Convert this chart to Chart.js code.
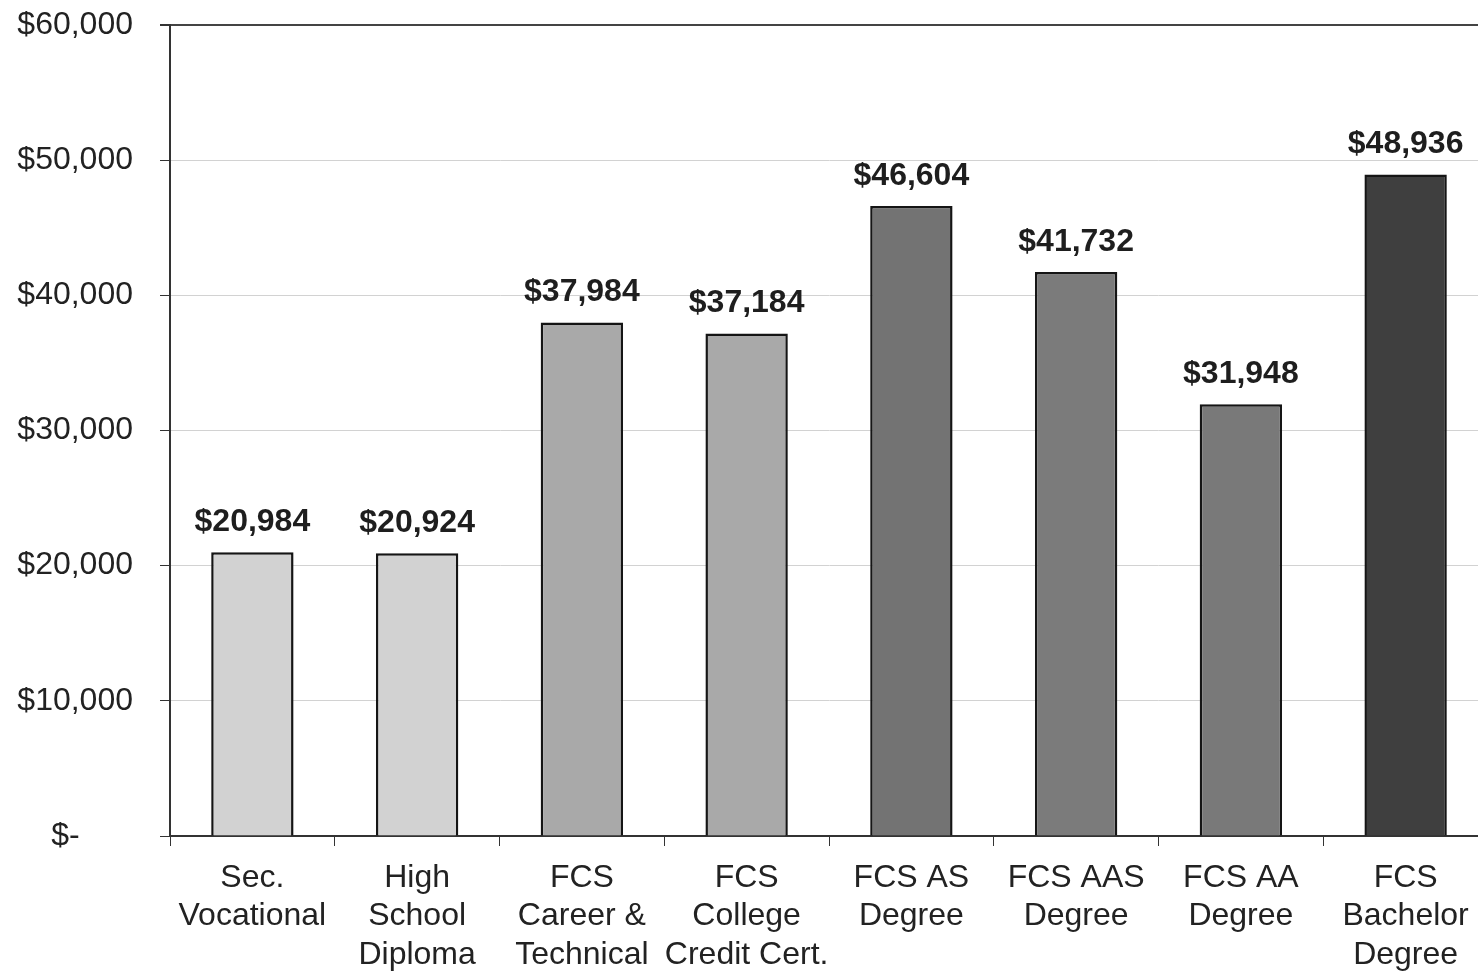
<html lang="en">

<head>
  <meta charset="UTF-8">
  <script src="https://cdn.jsdelivr.net/npm/chart.js@4.4.1/dist/chart.umd.min.js"></script>
  <title>Average Earnings by Education Level</title>
  <style>
    body { margin: 0; overflow: hidden; background: #fff; }
  </style>
</head>

<body>
  <canvas id="myChart" width="1492" height="972"></canvas>
  <script>
    const categories = [
      ['Sec.', 'Vocational'],
      ['High', 'School', 'Diploma'],
      ['FCS', 'Career &', 'Technical'],
      ['FCS', 'College', 'Credit Cert.'],
      ['FCS AS', 'Degree'],
      ['FCS AAS', 'Degree'],
      ['FCS AA', 'Degree'],
      ['FCS', 'Bachelor', 'Degree']
    ];
    const earnings = [20984, 20924, 37984, 37184, 46604, 41732, 31948, 48936];
    const barColors = ['#d2d2d2', '#d2d2d2', '#a9a9a9', '#a9a9a9', '#737373', '#7b7b7b', '#797979', '#3f3f3f'];
    const yTicks = [0, 10000, 20000, 30000, 40000, 50000, 60000];

    function money(v) {
      return '$' + v.toLocaleString('en-US');
    }

    // draws the bold value above each bar
    const valueLabels = {
      id: 'valueLabels',
      afterDatasetsDraw(chart) {
        const ctx = chart.ctx;
        const meta = chart.getDatasetMeta(0);
        ctx.save();
        ctx.font = 'bold 32px "Liberation Sans"';
        ctx.fillStyle = '#1e1e1e';
        ctx.textAlign = 'center';
        ctx.textBaseline = 'middle';
        meta.data.forEach((bar, i) => {
          ctx.fillText(money(earnings[i]), bar.x, bar.y - 30);
        });
        ctx.restore();
      }
    };

    const ctx = document.getElementById('myChart').getContext('2d');
    const myChart = new Chart(ctx, {
      type: 'bar',
      data: {
        labels: categories,
        datasets: [{
          data: earnings,
          backgroundColor: barColors,
          borderColor: '#151515',
          borderWidth: 2.5,
          barPercentage: 0.5,
          categoryPercentage: 1
        }]
      },
      options: {
        responsive: false,
        animation: false,
        layout: { padding: { left: 17, right: 4, top: 25, bottom: 0 } },
        plugins: {
          legend: { display: false },
          tooltip: { enabled: false }
        },
        scales: {
          y: {
            min: 0,
            max: 60000,
            afterBuildTicks: axis => { axis.ticks = yTicks.map(v => ({ value: v })); },
            afterFit: axis => {
              axis.width = 153;
              axis.paddingTop = 0;
              axis.paddingBottom = 0;
            },
            ticks: {
              callback: v => v === 0 ? '$-\u00a0\u00a0\u00a0\u00a0\u00a0\u00a0' : money(v),
              font: { family: 'Liberation Sans', size: 32 },
              color: '#222',
              padding: 27
            },
            grid: {
              color: ctx => ctx.tick && ctx.tick.value === 60000 ? '#444' : '#d2d2d2',
              lineWidth: ctx => ctx.tick && ctx.tick.value === 60000 ? 2 : 1,
              tickColor: '#333',
              tickLength: 10
            },
            border: { color: '#333', width: 2 }
          },
          x: {
            afterFit: axis => {
              axis.height = 136;
              axis.paddingLeft = 0;
              axis.paddingRight = 0;
            },
            ticks: {
              font: { family: 'Liberation Sans', size: 32, lineHeight: 1.2 },
              color: '#222',
              padding: 13,
              maxRotation: 0,
              autoSkip: false
            },
            grid: {
              offset: true,
              drawOnChartArea: false,
              tickColor: '#333',
              tickLength: 10
            },
            border: { color: '#333', width: 2 }
          }
        }
      },
      plugins: [valueLabels]
    });
  </script>
</body>

</html>
